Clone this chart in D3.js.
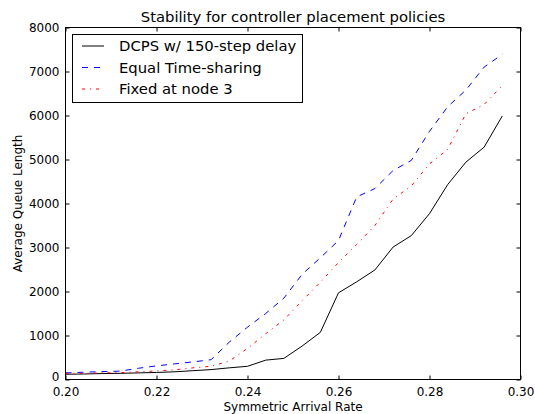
<!DOCTYPE html>
<html><head><meta charset="utf-8">
<script src="https://cdn.jsdelivr.net/npm/d3@7"></script>
<style>body{margin:0;background:#fff}svg{display:block}text{font-family:"DejaVu Sans",sans-serif}</style>
</head><body>
<script>
const rates = [0.200,0.204,0.208,0.212,0.216,0.220,0.224,0.228,0.232,0.236,0.240,0.244,0.248,0.252,0.256,0.260,0.264,0.268,0.272,0.276,0.280,0.284,0.288,0.292,0.296];
const dcps = [120,125,135,140,150,160,175,200,225,265,300,440,480,760,1070,1970,2220,2490,3010,3270,3770,4430,4940,5280,5990];
const equalTS = [150,165,180,190,255,310,355,400,450,850,1190,1500,1850,2390,2765,3160,4150,4340,4750,4980,5640,6200,6580,7100,7390];
const fixed3 = [140,140,150,155,175,195,220,265,300,420,705,1040,1355,1790,2210,2660,3070,3500,4100,4400,4900,5230,6040,6250,6680];
const seriesNames = ["DCPS w/ 150-step delay","Equal Time-sharing","Fixed at node 3"];
const xTicks = [0.20,0.22,0.24,0.26,0.28,0.30];
const yTicks = [0,1000,2000,3000,4000,5000,6000,7000,8000];
const titleText = "Stability for controller placement policies";
const xLabel = "Symmetric Arrival Rate";
const yLabel = "Average Queue Length";

const W=535,H=414;
const L=65.5,R=520.5,T=27.5,B=379.5;
const svg=d3.select("body").append("svg").attr("width",W).attr("height",H);
const x=d3.scaleLinear().domain([0.20,0.30]).range([L,R]);
const y=d3.scaleLinear().domain([0,8000]).range([B,T]);

const styles=[
  {data:dcps,color:"#000000",dash:null},
  {data:equalTS,color:"#0000ff",dash:"6,6"},
  {data:fixed3,color:"#ff0000",dash:"3,5,1,5"}
];
const line=d3.line().x((d,i)=>x(rates[i])).y(d=>y(d));
svg.append("clipPath").attr("id","c").append("rect").attr("x",L).attr("y",T).attr("width",R-L).attr("height",B-T);
const g=svg.append("g").attr("clip-path","url(#c)");
styles.forEach(s=>{
  g.append("path").datum(s.data).attr("d",line).attr("fill","none")
   .attr("stroke",s.color).attr("stroke-width",1).attr("stroke-dasharray",s.dash);
});

const fmtX=d3.format(".2f");
const xb=svg.append("g").attr("transform",`translate(0,${B})`).call(d3.axisBottom(x).tickValues(xTicks).tickFormat(fmtX).tickSizeInner(-4).tickSizeOuter(0).tickPadding(8));
const xt=svg.append("g").attr("transform",`translate(0,${T})`).call(d3.axisTop(x).tickValues(xTicks).tickFormat("").tickSizeInner(-4).tickSizeOuter(0));
const yl=svg.append("g").attr("transform",`translate(${L},0)`).call(d3.axisLeft(y).tickValues(yTicks).tickFormat(d3.format("d")).tickSizeInner(-4).tickSizeOuter(0).tickPadding(6));
const yr=svg.append("g").attr("transform",`translate(${R},0)`).call(d3.axisRight(y).tickValues(yTicks).tickFormat("").tickSizeInner(-4).tickSizeOuter(0));
[xb,xt,yl,yr].forEach(a=>{a.select(".domain").remove();a.selectAll("line").attr("stroke","#000");a.selectAll("text").attr("fill","#000").style("font-size","12px").style("font-family","DejaVu Sans");});
yl.selectAll(".tick text").filter(d=>d===0).attr("dy","0.1em");
svg.append("rect").attr("x",L).attr("y",T).attr("width",R-L).attr("height",B-T).attr("fill","none").attr("stroke","#000").attr("stroke-width",1);

svg.append("text").attr("x",(L+R)/2).attr("y",22).attr("text-anchor","middle").style("font-size","14.8px").text(titleText);
svg.append("text").attr("x",(L+R)/2).attr("y",411).attr("text-anchor","middle").style("font-size","12px").text(xLabel);
svg.append("text").attr("transform",`translate(22,${(T+B)/2}) rotate(-90)`).attr("text-anchor","middle").style("font-size","12px").text(yLabel);

const lg=svg.append("g");
lg.append("rect").attr("x",72.5).attr("y",34.5).attr("width",230).attr("height",68).attr("fill","#fff").attr("stroke","#000").attr("stroke-width",1);
const rowsY=[46,67.5,89];
styles.forEach((s,i)=>{
  lg.append("line").attr("x1",82).attr("x2",104).attr("y1",rowsY[i]).attr("y2",rowsY[i]).attr("stroke",s.color).attr("stroke-width",1).attr("stroke-dasharray",s.dash);
  lg.append("text").attr("x",119).attr("y",rowsY[i]+5).style("font-size","14.8px").text(seriesNames[i]);
});
</script>
</body></html>
